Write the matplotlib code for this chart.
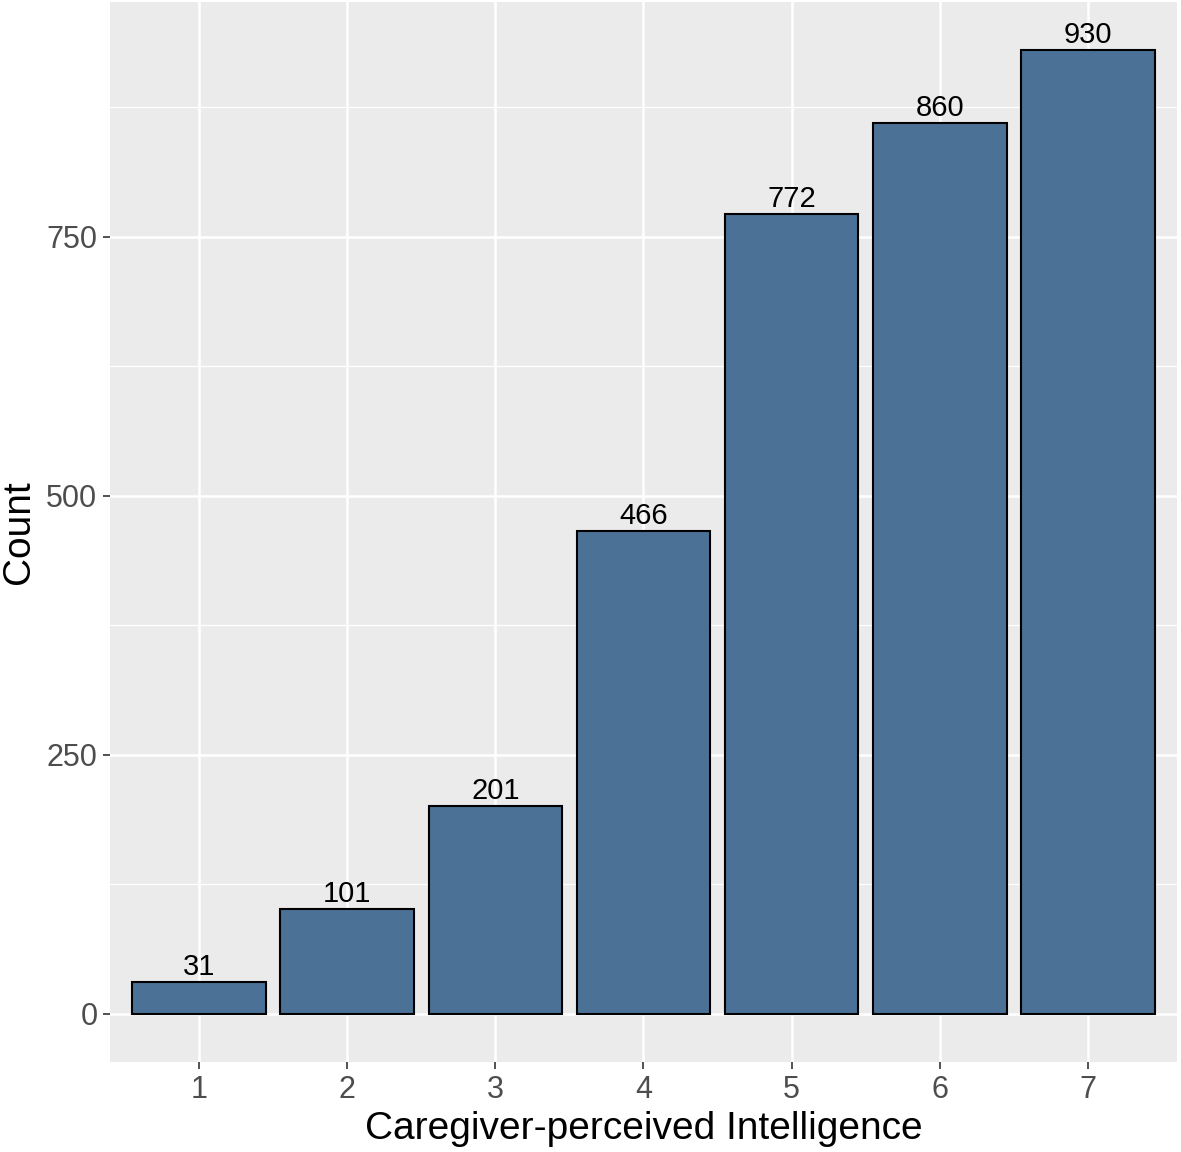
import matplotlib
matplotlib.use('Agg')
import matplotlib.pyplot as plt
import numpy as np

plt.rcParams['font.family'] = ['Liberation Sans', 'DejaVu Sans']

# data
levels = ['1', '2', '3', '4', '5', '6', '7']
counts = [31, 101, 201, 466, 772, 860, 930]

fig = plt.figure(figsize=(11.81, 11.52), dpi=100)
ax = fig.add_axes([0.0931, 0.0781, 0.9035, 0.9202])
ax.set_facecolor('#EBEBEB')

x = np.arange(1, len(levels) + 1)
ax.bar(x, counts, width=0.9, color='#4B7197', edgecolor='black',
       linewidth=1.5, zorder=3)

# labels above bars
for xi, c in zip(x, counts):
    ax.text(xi, c + 1, str(c), ha='center', va='bottom', fontsize=21,
            color='black', zorder=4)

ax.set_xlim(0.4, 7.6)
ax.set_ylim(-46.5, 976.5)
ax.set_xticks(x)
ax.set_xticklabels(levels)
ax.set_yticks([0, 250, 500, 750])
ax.set_yticks([125, 375, 625, 875], minor=True)

# ggplot-ish grid
ax.grid(True, which='major', color='white', linewidth=1.8, zorder=0)
ax.grid(True, which='minor', axis='y', color='white', linewidth=0.9, zorder=0)
ax.set_axisbelow(True)
for s in ax.spines.values():
    s.set_visible(False)

ax.tick_params(axis='both', which='major', length=5, width=1.2,
               color='#333333', labelsize=22, labelcolor='#4D4D4D', pad=4)
ax.tick_params(axis='y', which='minor', length=0)

ax.set_xlabel('Caregiver-perceived Intelligence', fontsize=28, labelpad=5)
ax.set_ylabel('Count', fontsize=28, labelpad=7)

fig.savefig('out.png', dpi=100, facecolor='white')
plt.close(fig)
